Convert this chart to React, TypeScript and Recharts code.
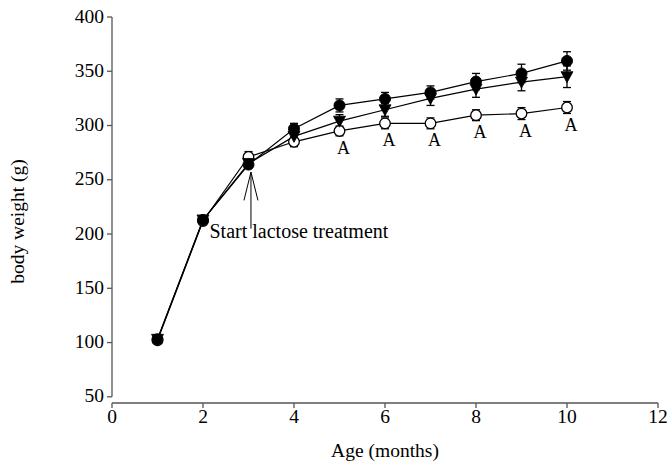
import React from "react";
import {
  LineChart,
  Line,
  XAxis,
  YAxis,
  ErrorBar,
  ReferenceLine,
  ReferenceDot,
  LabelList,
} from "recharts";

const months = [1, 2, 3, 4, 5, 6, 7, 8, 9, 10];
const filledMean = [103, 213, 264, 297, 318.5, 324.5, 330.5, 340.5, 348, 359.5];
const filledErr = [2, 2, 3, 5, 6, 6, 6, 7.5, 8.5, 8.5];
const triMean = [103, 213, 265, 290, 304, 314.5, 325, 333.5, 340, 345];
const triErr = [2, 2, 3, 5, 6, 6, 6.5, 7.5, 8, 10];
const openMean = [102, 212, 271, 285, 295, 302, 302, 309.5, 311, 316.6];
const openErr = [2, 2, 5, 4.5, 4.5, 5, 5, 5, 5.5, 5.5];
const sigLabels = ["", "", "", "", "A", "A", "A", "A", "A", "A"];
const xTicks = [0, 2, 4, 6, 8, 10, 12];
const yTicks = [50, 100, 150, 200, 250, 300, 350, 400];

const data = months.map((m, i) => ({
  month: m,
  filled: filledMean[i],
  filledErr: filledErr[i],
  tri: triMean[i],
  triErr: triErr[i],
  open: openMean[i],
  openErr: openErr[i],
  sig: sigLabels[i],
}));

const FONT = "'Liberation Serif', 'Times New Roman', serif";
const AXIS = "#555";

const FilledDot = (p: any) => (
  <circle key={`f${p.index}`} cx={p.cx} cy={p.cy} r={5.5} fill="#000" stroke="#000" />
);
const TriDot = (p: any) => (
  <polygon
    key={`t${p.index}`}
    points={`${p.cx - 6},${p.cy - 5} ${p.cx + 6},${p.cy - 5} ${p.cx},${p.cy + 6}`}
    fill="#000"
    stroke="#000"
    strokeWidth={0.8}
  />
);
const OpenDot = (p: any) => (
  <circle key={`o${p.index}`} cx={p.cx} cy={p.cy} r={5.3} fill="#fff" stroke="#000" strokeWidth={1.3} />
);

const YTick = (p: any) => (
  <text x={p.x} y={p.y} dy={5.5} textAnchor="end" fontFamily={FONT} fontSize={19.5} fill="#000">
    {p.payload.value}
  </text>
);
const XTick = (p: any) => (
  <text x={p.x} y={p.y} dy={14} textAnchor="middle" fontFamily={FONT} fontSize={19.5} fill="#000">
    {p.payload.value}
  </text>
);

const SigLabel = (p: any) =>
  p.value ? (
    <text x={p.x + 4} y={p.y + 23} textAnchor="middle" fontFamily={FONT} fontSize={18} fill="#000">
      {p.value}
    </text>
  ) : null;

const arrowX = 3.054;
const arrowTip = 257;
const arrowBarb = 231;
const arrowEnd = 205;
const noteX = 2.143;
const noteY = 196.8;

export default function App() {
  return (
    <div style={{ position: "absolute", left: 0, top: 0 }}>
      <LineChart
        width={670}
        height={461}
        data={data}
        margin={{ top: 17, right: 12, bottom: 0, left: 0 }}
      >
        <XAxis
          dataKey="month"
          type="number"
          domain={[0, 12]}
          ticks={xTicks}
          tickSize={5}
          tickMargin={1}
          stroke={AXIS}
          strokeWidth={1.3}
          height={58}
          tick={<XTick />}
          label={(p: any) => (
            <text
              x={p.viewBox.x + p.viewBox.width / 2}
              y={p.viewBox.y + 54}
              textAnchor="middle"
              fontFamily={FONT}
              fontSize={19.5}
              fill="#000"
            >
              Age (months)
            </text>
          )}
        />
        <YAxis
          type="number"
          domain={[44.3, 400]}
          ticks={yTicks}
          axisLine={false}
          tickLine={{ stroke: AXIS, strokeWidth: 1.3 }}
          tickSize={5}
          tickMargin={3}
          width={112}
          tick={<YTick />}
          label={(p: any) => {
            const cy = p.viewBox.y + p.viewBox.height / 2 + 11.5;
            return (
              <text
                x={23.7}
                y={cy}
                transform={`rotate(-90, 23.7, ${cy})`}
                textAnchor="middle"
                fontFamily={FONT}
                fontSize={19.5}
                fill="#000"
              >
                body weight (g)
              </text>
            );
          }}
        />
        <ReferenceLine
          segment={[
            { x: 0, y: 50 },
            { x: 0, y: 400 },
          ]}
          stroke={AXIS}
          strokeWidth={1.3}
          ifOverflow="visible"
        />
        <ReferenceLine
          segment={[
            { x: arrowX, y: arrowTip },
            { x: arrowX, y: arrowEnd },
          ]}
          stroke="#000"
          strokeWidth={1}
          ifOverflow="visible"
        />
        <ReferenceLine
          segment={[
            { x: arrowX, y: arrowTip },
            { x: arrowX - 0.154, y: arrowBarb },
          ]}
          stroke="#000"
          strokeWidth={1}
          ifOverflow="visible"
        />
        <ReferenceLine
          segment={[
            { x: arrowX, y: arrowTip },
            { x: arrowX + 0.154, y: arrowBarb },
          ]}
          stroke="#000"
          strokeWidth={1}
          ifOverflow="visible"
        />
        <ReferenceDot
          x={noteX}
          y={noteY}
          r={0}
          ifOverflow="visible"
          shape={(p: any) => (
            <text x={p.cx} y={p.cy} fontFamily={FONT} fontSize={20} fill="#000">
              Start lactose treatment
            </text>
          )}
        />
        <Line
          dataKey="open"
          stroke="#000"
          strokeWidth={1.2}
          dot={OpenDot}
          isAnimationActive={false}
        >
          <ErrorBar dataKey="openErr" direction="y" width={4} stroke="#000" strokeWidth={1.3} />
          <LabelList dataKey="sig" content={SigLabel} />
        </Line>
        <Line
          dataKey="tri"
          stroke="#000"
          strokeWidth={1.2}
          dot={TriDot}
          isAnimationActive={false}
        >
          <ErrorBar dataKey="triErr" direction="y" width={4} stroke="#000" strokeWidth={1.3} />
        </Line>
        <Line
          dataKey="filled"
          stroke="#000"
          strokeWidth={1.2}
          dot={FilledDot}
          isAnimationActive={false}
        >
          <ErrorBar dataKey="filledErr" direction="y" width={4} stroke="#000" strokeWidth={1.3} />
        </Line>
      </LineChart>
    </div>
  );
}
